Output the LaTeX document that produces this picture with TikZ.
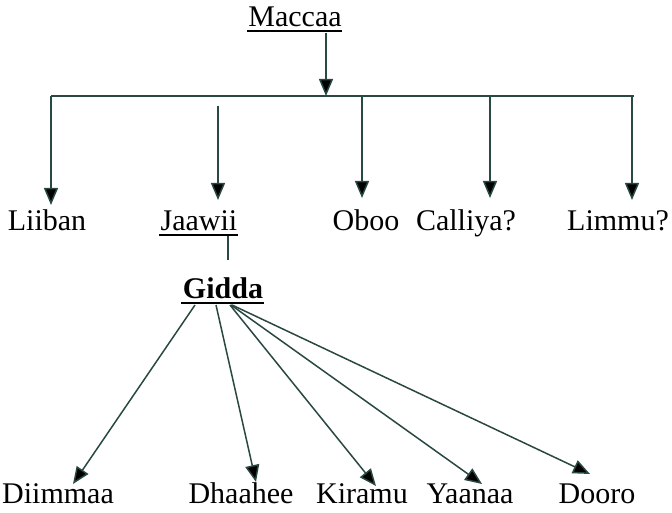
\documentclass[tikz,border=0pt]{standalone}
\usepackage{fontspec}
\setmainfont{Liberation Serif}
\usetikzlibrary{arrows.meta}
\definecolor{linecol}{RGB}{42,72,66}
\begin{document}
\begin{tikzpicture}[x=1pt,y=-1pt,
  lbl/.style={font=\fontsize{30}{32}\selectfont, inner sep=0pt, anchor=base},
  ln/.style={draw=linecol, line width=1.5pt},
  uline/.style={draw=black, line width=2pt},
  arr/.style={ln, -{Triangle[length=17pt,width=14pt,fill=black]}}]
\useasboundingbox (0,0) rectangle (672,513);
% labels
\node[lbl] (maccaa) at (295,27) {Maccaa};
\node[lbl] (liiban) at (47,231) {Liiban};
\node[lbl] (jaawii) at (199,231) {Jaawii};
\node[lbl] (oboo) at (366,231) {Oboo};
\node[lbl] (calliya) at (466,231) {Calliya?};
\node[lbl] (limmu) at (618,231) {Limmu?};
\node[lbl, font=\fontsize{30}{32}\selectfont\bfseries] (gidda) at (223,298) {Gidda};
\node[lbl] (diimmaa) at (58,503) {Diimmaa};
\node[lbl] (dhaahee) at (241,503) {Dhaahee};
\node[lbl] (kiramu) at (362,503) {Kiramu};
\node[lbl] (yaanaa) at (470,503) {Yaanaa};
\node[lbl] (dooro) at (597,503) {Dooro};
% underlines
\draw[uline] ([shift={(-1pt,-4pt)}]maccaa.base west) -- ([shift={(0pt,-4pt)}]maccaa.base east);
\draw[uline] ([shift={(-1pt,-4pt)}]jaawii.base west) -- ([shift={(0pt,-4pt)}]jaawii.base east);
\draw[uline] ([shift={(-2pt,-5pt)}]gidda.base west) -- ([shift={(1pt,-5pt)}]gidda.base east);
% coordinates
\coordinate (mt) at (326,33);
\coordinate (mj) at (326,96);
\coordinate (j0) at (51,96);
\coordinate (j5) at (634,96);
\coordinate (s1) at (218,106);
\coordinate (s2) at (362,96);
\coordinate (s3) at (490,96);
\coordinate (s4) at (632,96);
\coordinate (t0) at (51,205);
\coordinate (t1) at (218,200);
\coordinate (t2) at (362,198);
\coordinate (t3) at (490,198);
\coordinate (t4) at (632,200);
\coordinate (ja) at (228,236);
\coordinate (jb) at (228,260);
\coordinate (g1) at (195,305);
\coordinate (g2) at (216,305);
\coordinate (g3) at (230,305);
\coordinate (g4) at (231,305);
\coordinate (g5) at (232,305);
\coordinate (b1) at (73,484);
\coordinate (b2) at (256,482);
\coordinate (b3) at (376,486);
\coordinate (b4) at (482,484);
\coordinate (b5) at (590,474);
% connectors
\draw[arr] (mt) -- (mj);
\draw[ln] (j0) -- (j5);
\draw[arr] (j0) -- (t0);
\draw[arr] (s1) -- (t1);
\draw[arr] (s2) -- (t2);
\draw[arr] (s3) -- (t3);
\draw[arr] (s4) -- (t4);
\draw[ln] (ja) -- (jb);
\draw[arr] (g1) -- (b1);
\draw[arr] (g2) -- (b2);
\draw[arr] (g3) -- (b3);
\draw[arr] (g4) -- (b4);
\draw[arr] (g5) -- (b5);
\end{tikzpicture}
\end{document}
